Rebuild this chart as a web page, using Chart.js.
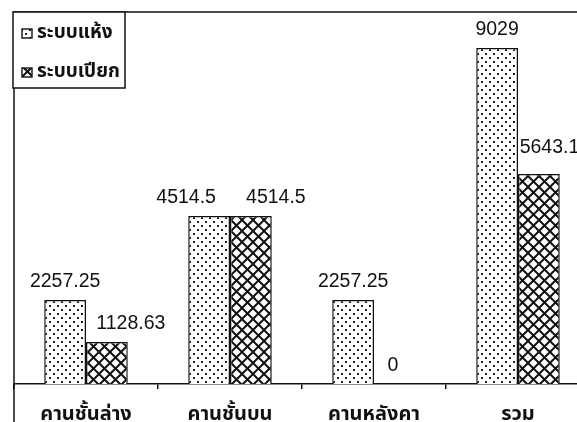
<!DOCTYPE html>
<html>
<head>
<meta charset="utf-8">
<script src="https://cdn.jsdelivr.net/npm/chart.js@4/dist/chart.umd.min.js"></script>
<style>
  html, body { margin: 0; padding: 0; background: #ffffff; }
  #wrap { width: 577px; height: 422px; overflow: hidden; position: relative; }
  #chart { display: block; }
</style>
</head>
<body>
<div id="wrap"><canvas id="chart" width="600" height="430"></canvas></div>
<script>
const categories = ["คานชั้นล่าง", "คานชั้นบน", "คานหลังคา", "รวม"];
const series_names = ["ระบบแห้ง", "ระบบเปียก"];
const dry_values = [2257.25, 4514.5, 2257.25, 9029];
const wet_values = [1128.63, 4514.5, 0, 5643.13];

const THAI_FONT = "Tahoma, 'Noto Sans Thai', Loma, Garuda, 'TLWG Typist', 'DejaVu Sans', sans-serif";
const NUM_FONT = "'Liberation Sans', Arial, sans-serif";

// stipple fill for the dry series
function dot_pattern() {
    const c = document.createElement("canvas");
    c.width = 8; c.height = 8;
    const g = c.getContext("2d");
    g.fillStyle = "#ffffff";
    g.fillRect(0, 0, 8, 8);
    g.fillStyle = "#222222";
    g.fillRect(1, 1, 2, 2);
    g.fillRect(5, 5, 2, 2);
    return g.createPattern(c, "repeat");
}

// diagonal cross hatch for the wet series
function hatch_pattern() {
    const c = document.createElement("canvas");
    c.width = 11; c.height = 11;
    const g = c.getContext("2d");
    g.fillStyle = "#ffffff";
    g.fillRect(0, 0, 11, 11);
    g.strokeStyle = "#111111";
    g.lineWidth = 2;
    g.beginPath();
    g.moveTo(-2, -2); g.lineTo(13, 13);
    g.moveTo(-2, 13); g.lineTo(13, -2);
    g.stroke();
    return g.createPattern(c, "repeat");
}

// value labels above bars; some are nudged sideways so they don't collide
const label_shift = [[0, -23, 0, 0], [24, 25, -2, 16]];
const label_lift = [[0, 0, 0, 0], [0, 0, 0, 8]];
const value_labels = {
    id: "value_labels",
    afterDatasetsDraw(chart) {
        const ctx = chart.ctx;
        ctx.save();
        ctx.font = "19.5px " + NUM_FONT;
        ctx.fillStyle = "#111111";
        ctx.textAlign = "center";
        ctx.textBaseline = "alphabetic";
        chart.data.datasets.forEach(function (ds, di) {
            chart.getDatasetMeta(di).data.forEach(function (bar, i) {
                const txt = String(ds.data[i]);
                ctx.fillText(txt, bar.x + label_shift[di][i], bar.y - 13 - label_lift[di][i]);
            });
        });
        ctx.restore();
    }
};

// frame lines and the boxed legend in the top-left corner
const frame_legend = {
    id: "frame_legend",
    afterDraw(chart) {
        const ctx = chart.ctx;
        const a = chart.chartArea;
        ctx.save();
        ctx.strokeStyle = "#111111";
        ctx.lineWidth = 1.5;
        ctx.beginPath();
        ctx.moveTo(a.left, chart.height);
        ctx.lineTo(a.left, a.top);
        ctx.lineTo(chart.width, a.top);
        ctx.stroke();

        const bx = a.left - 1, by = a.top, bw = 112, bh = 76;
        ctx.fillStyle = "#ffffff";
        ctx.fillRect(bx, by, bw, bh);
        ctx.strokeRect(bx, by, bw, bh);

        ctx.font = "bold 19px " + THAI_FONT;
        ctx.textBaseline = "middle";
        ctx.textAlign = "left";
        chart.data.datasets.forEach(function (ds, di) {
            const y = by + 21 + di * 39;
            ctx.fillStyle = ds.backgroundColor;
            ctx.fillRect(bx + 9, y - 4, 10, 9);
            ctx.lineWidth = 1.4;
            ctx.strokeRect(bx + 9, y - 4, 10, 9);
            ctx.fillStyle = "#111111";
            ctx.fillText(ds.label, bx + 24, y + 1);
        });
        ctx.restore();
    }
};

const chart = new Chart(document.getElementById("chart"), {
    type: "bar",
    data: {
        labels: categories,
        datasets: [
            {
                label: series_names[0],
                data: dry_values,
                backgroundColor: dot_pattern(),
                borderColor: "#111111",
                borderWidth: 1.5
            },
            {
                label: series_names[1],
                data: wet_values,
                backgroundColor: hatch_pattern(),
                borderColor: "#111111",
                borderWidth: 1.5
            }
        ]
    },
    options: {
        responsive: false,
        animation: false,
        events: [],
        layout: { padding: { left: 14, top: 12, right: 10, bottom: 0 } },
        datasets: { bar: { categoryPercentage: 0.58, barPercentage: 1.0 } },
        plugins: {
            legend: { display: false },
            tooltip: { enabled: false }
        },
        scales: {
            x: {
                border: { display: true, color: "#111111", width: 1.5 },
                grid: {
                    offset: true,
                    drawOnChartArea: false,
                    drawTicks: true,
                    tickLength: 5,
                    color: "#111111",
                    lineWidth: 1.5
                },
                ticks: {
                    color: "#111111",
                    font: { family: THAI_FONT, size: 20, weight: "bold" },
                    padding: 15,
                    maxRotation: 0
                },
                afterFit: function (s) { s.height = 46; }
            },
            y: {
                display: false,
                min: 0,
                max: 10000
            }
        }
    },
    plugins: [value_labels, frame_legend]
});
</script>
</body>
</html>
